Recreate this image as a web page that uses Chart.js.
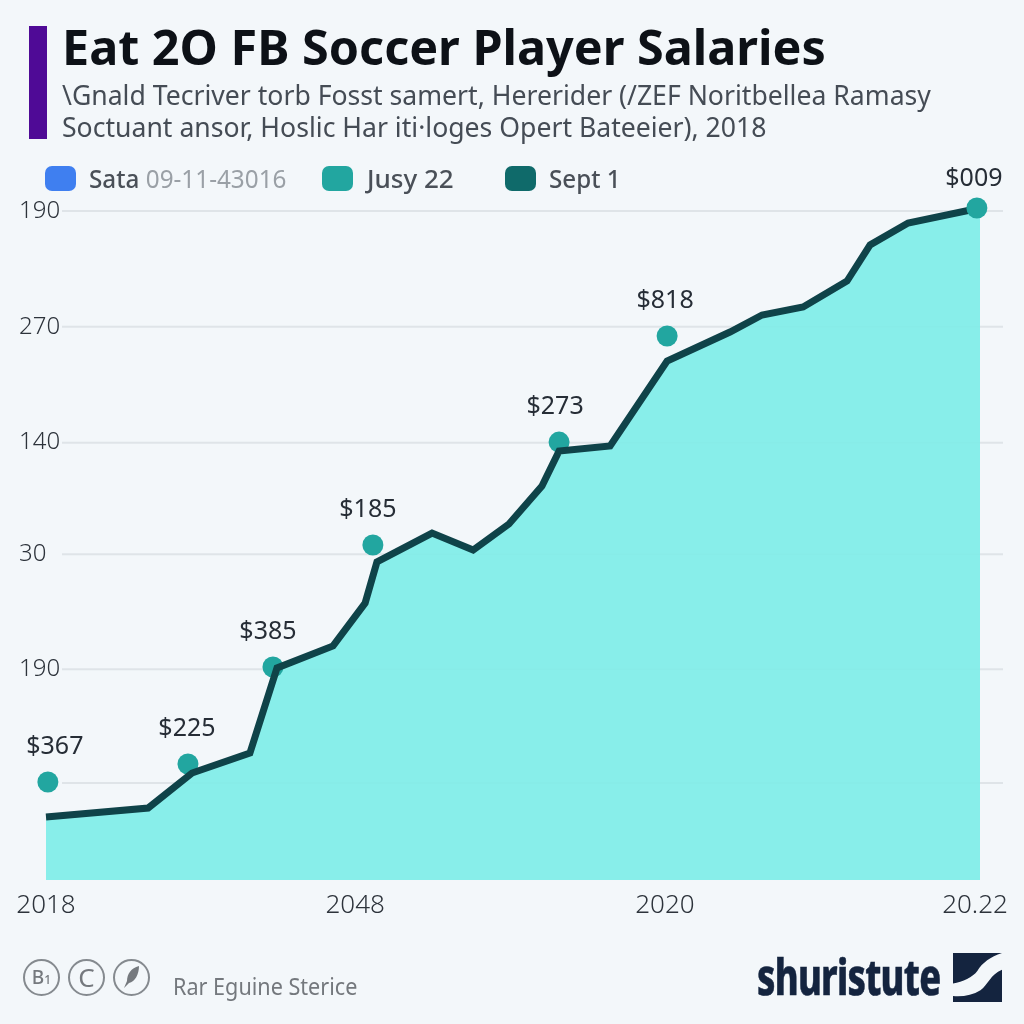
<!DOCTYPE html>
<html>
<head>
<meta charset="utf-8">
<title>Eat 2O FB Soccer Player Salaries</title>
<script src="https://cdn.jsdelivr.net/npm/chart.js@4"></script>
<style>
html, body { margin: 0; padding: 0; background: #f3f7fa; }
#page { position: relative; width: 1024px; height: 1024px; overflow: hidden; font-family: "Noto Sans", sans-serif; }
#page div, #page span { position: absolute; white-space: nowrap; }
#page span.inl { position: static; }
#myChart { position: absolute; left: 0; top: 0; }
#bar { left: 29px; top: 26px; width: 18px; height: 113px; background: #4f0a96; }
#title { left: 62px; top: 13px; font-size: 48.5px; font-weight: 700; color: #0d1117; }
.sub { left: 62px; font-size: 28px; color: #454c55; transform: scaleX(0.95); transform-origin: left top; }
.swatch { top: 166px; width: 31px; height: 25px; border-radius: 7px; }
.leg { top: 160px; font-size: 26px; font-weight: 500; color: #4a5058; transform-origin: left top; }
.grey { color: #9aa0a6; font-weight: 400; }
.badge { top: 959px; width: 33px; height: 33px; border: 2.5px solid #858a8f; border-radius: 50%; color: #75797e; text-align: center; line-height: 33px; }
#source { left: 173px; top: 969px; font-size: 24px; color: #74787d; transform: scaleX(0.9); transform-origin: left top; }
#brand { left: 757px; top: 942px; font-size: 50px; font-weight: 800; color: #14243f; transform: scaleX(0.725); transform-origin: left top; letter-spacing: -1px; -webkit-text-stroke: 0.6px #14243f; }
#logo { position: absolute; left: 953px; top: 953px; }
</style>
</head>
<body>
<div id="page">
  <canvas id="myChart" width="1024" height="1024"></canvas>
  <div id="bar"></div>
  <div id="title">Eat 2O FB Soccer Player Salaries</div>
  <div class="sub" style="top:75px">\Gnald Tecriver torb Fosst samert, Hererider (/ZEF Noritbellea Ramasy</div>
  <div class="sub" style="top:107px">Soctuant ansor, Hoslic Har iti·loges Opert Bateeier), 2018</div>
  <div id="legend"></div>
  <div class="badge" style="left:23px;font-size:19px;font-weight:500">B<span class="inl" style="font-size:12px">1</span></div>
  <div class="badge" style="left:68px;font-size:26px">C</div>
  <div class="badge" style="left:113px">
    <svg width="33" height="33" viewBox="0 0 33 33" style="display:block"><path d="M24 5 C16 7 12 13 12 20 L9 27 L14 22 C20 21 24 13 24 5 Z" fill="#75797e"/></svg>
  </div>
  <div id="source">Rar Eguine Sterice</div>
  <div id="brand">shuristute</div>
  <svg id="logo" width="49" height="49" viewBox="0 0 50 50">
    <path d="M0 0 L50 0 C38 4 30 10 25 18 C20 25 10 29 0 31 Z" fill="#14243f"/>
    <path d="M50 17 C38 22 36 32 28 38 C20 43 10 45 0 44 L0 50 L50 50 Z" fill="#14243f"/>
  </svg>
</div>
<script>
// values
const xTickValues = [0, 99.3, 198.8, 298.4];
const xTickLabels = ['2018', '2048', '2020', '20.22'];
const yTickValues = [100, 199.4, 299.9, 397.5, 498.9, 600];
const yTickLabels = ['', '190', '30', '140', '270', '190'];

const lineX = [0, 32.8, 46.9, 65.5, 74.2, 92.2, 102.5, 106.3, 124, 137.2, 148.7, 159.3, 164.8, 181.2, 199.5, 219.7, 230, 243.2, 257.3, 264.7, 276.9, 300];
const lineY = [70.3, 78.1, 108.7, 126.2, 200.5, 219.8, 257.3, 293.2, 318.5, 303.7, 326.4, 359.6, 390.2, 394.6, 468.9, 494.2, 509.1, 516.1, 538.8, 570.3, 589.5, 602.6];

const dotX = [0.6, 45.6, 72.9, 105, 164.8, 199.5, 299];
const dotY = [100.9, 116.6, 201.4, 308, 398, 490.7, 602.6];
const dotLabels = ['$367', '$225', '$385', '$185', '$273', '$818', '$009'];

const seriesNames = ['Sata 09-11-43016', 'Jusy 22', 'Sept 1'];

const bgGrid = {
    id: 'bgGrid',
    beforeDraw(chart) {
        const ctx = chart.ctx, y = chart.scales.y;
        ctx.save();
        ctx.strokeStyle = 'rgba(120,130,140,0.16)';
        ctx.lineWidth = 2;
        yTickValues.forEach(v => {
            const py = y.getPixelForValue(v);
            ctx.beginPath();
            ctx.moveTo(62, py);
            ctx.lineTo(1003, py);
            ctx.stroke();
        });
        ctx.restore();
    }
};

const dotText = {
    id: 'dotText',
    afterDatasetsDraw(chart) {
        const ctx = chart.ctx, x = chart.scales.x, y = chart.scales.y;
        const dx = [7, -1, -5, -5, -4, -2, -3];
        ctx.save();
        ctx.font = '400 25px "Noto Sans"';
        ctx.fillStyle = '#262d36';
        ctx.textAlign = 'center';
        ctx.textBaseline = 'middle';
        dotLabels.forEach((t, i) => {
            const up = i === dotLabels.length - 1 ? 29 : 35.5;
            ctx.fillText(t, x.getPixelForValue(dotX[i]) + dx[i], y.getPixelForValue(dotY[i]) - up);
        });
        ctx.restore();
    }
};

const dotPoints = dotX.map((v, i) => ({x: v, y: dotY[i]}));
const dotStyle = {
    label: seriesNames[1],
    showLine: false,
    pointRadius: 10.5,
    pointBackgroundColor: '#22a6a0',
    pointBorderWidth: 0,
    clip: false
};

new Chart(document.getElementById('myChart'), {
    type: 'line',
    data: {
        datasets: [
            // last dot sits over the end of the line, the others under it
            Object.assign({data: dotPoints.slice(0, -1), order: 3}, dotStyle),
            {
                label: seriesNames[2],
                data: lineX.map((v, i) => ({x: v, y: lineY[i]})),
                borderColor: '#0f4349',
                borderWidth: 7,
                borderJoinStyle: 'miter',
                tension: 0,
                pointRadius: 0,
                fill: 'start',
                backgroundColor: 'rgba(127,237,232,0.92)',
                clip: false,
                order: 2
            },
            Object.assign({data: dotPoints.slice(-1), order: 1}, dotStyle)
        ]
    },
    plugins: [bgGrid, dotText],
    options: {
        responsive: false,
        animation: false,
        layout: { padding: { left: 19, right: 44, top: 211, bottom: 0 } },
        plugins: {
            legend: { display: false },
            tooltip: { enabled: false },
            filler: { drawTime: 'beforeDatasetsDraw' }
        },
        scales: {
            x: {
                type: 'linear',
                min: 0,
                max: 300,
                afterBuildTicks: s => { s.ticks = xTickValues.map(v => ({value: v})); },
                afterFit: s => { s.height = 144; },
                grid: { display: false, drawTicks: false },
                border: { display: false },
                ticks: {
                    autoSkip: false,
                    maxRotation: 0,
                    padding: 10,
                    color: '#2d333b',
                    font: { family: '"Noto Sans"', size: 26, weight: 300 },
                    callback: v => xTickLabels[xTickValues.indexOf(v)]
                }
            },
            y: {
                min: 15.2,
                max: 600,
                afterBuildTicks: s => { s.ticks = yTickValues.map(v => ({value: v})); },
                afterFit: s => { s.width = 27; },
                grid: { display: false, drawTicks: false },
                border: { display: false },
                ticks: {
                    autoSkip: false,
                    mirror: true,
                    crossAlign: 'near',
                    padding: -27,
                    color: '#2d333b',
                    font: { family: '"Noto Sans"', size: 24, weight: 300 },
                    callback: v => yTickLabels[yTickValues.indexOf(v)]
                }
            }
        }
    }
});

// legend, built from the series names
const legendBox = document.getElementById('legend');
const legendColors = ['#3f7ff0', '#22a6a0', '#0f6a6a'];
const swatchLeft = [45, 322, 505];
const textLeft = [89, 367, 549];
const textStretch = [0.934, 1, 0.93];
seriesNames.forEach((name, i) => {
    const sw = document.createElement('div');
    sw.className = 'swatch';
    sw.style.left = swatchLeft[i] + 'px';
    sw.style.background = legendColors[i];
    legendBox.appendChild(sw);
    const txt = document.createElement('div');
    txt.className = 'leg';
    txt.style.left = textLeft[i] + 'px';
    txt.style.transform = 'scaleX(' + textStretch[i] + ')';
    if (i === 0) {
        const parts = name.split(' ');
        txt.innerHTML = parts[0] + ' <span class="inl grey">' + parts[1] + '</span>';
    } else {
        txt.textContent = name;
    }
    legendBox.appendChild(txt);
});
</script>
</body>
</html>
